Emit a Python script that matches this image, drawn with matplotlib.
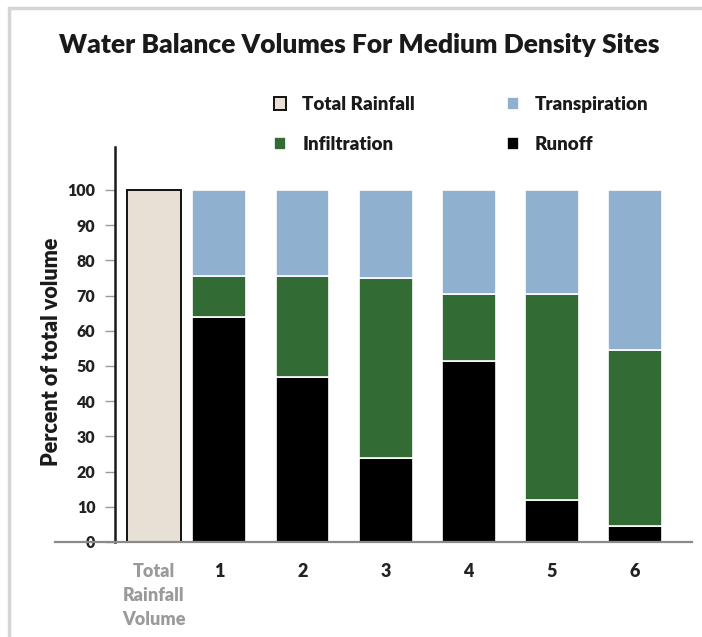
import numpy as np
import matplotlib
matplotlib.use("Agg")
import matplotlib.pyplot as plt
from matplotlib.patches import Rectangle

plt.rcParams['font.family'] = ['Lato', 'DejaVu Sans']
plt.rcParams['font.weight'] = 'heavy'
plt.rcParams['axes.labelweight'] = 'heavy'

# Water balance split (percent of total rainfall) for each medium density site
sites = ['1', '2', '3', '4', '5', '6']
runoff = [64, 47, 24, 51.5, 12, 4.5]
infiltration = [11.5, 28.5, 51, 19, 58.5, 50]
transpiration = [24.5, 24.5, 25, 29.5, 29.5, 45.5]
total_rainfall = 100
rainfall_label = 'Total\nRainfall\nVolume'
y_ticks = [0, 10, 20, 30, 40, 50, 60, 70, 80, 90, 100]

W, H = 702, 637
fig = plt.figure(figsize=(W / 100, H / 100), dpi=100)
ax = fig.add_axes([55 / W, 1 - 542 / H, (692 - 55) / W, (542 - 147) / H])

x = np.arange(1, len(sites) + 1)
rain_x = 0.21
width = 0.65

rain = ax.bar(rain_x, total_rainfall, width, color='#e7e0d5', edgecolor='#111111',
              linewidth=1.4, label='Total Rainfall')
run = ax.bar(x, runoff, width, color='black', edgecolor='white', linewidth=1.2,
             label='Runoff')
inf = ax.bar(x, infiltration, width, bottom=runoff, color='#336b34', edgecolor='white',
             linewidth=1.2, label='Infiltration')
tra = ax.bar(x, transpiration, width, bottom=np.add(runoff, infiltration), color='#8fb1cf',
             edgecolor='white', linewidth=1.2, label='Transpiration')

ax.set_xlim(-0.98, 6.69)
ax.set_ylim(0, 112.2)

for side in ['top', 'right']:
    ax.spines[side].set_visible(False)
ax.spines['left'].set_position(('data', -0.26))
ax.spines['left'].set_color('#1a1a1a')
ax.spines['left'].set_linewidth(1.8)
ax.spines['bottom'].set_color('#8a8a8a')
ax.spines['bottom'].set_linewidth(1.6)

ax.set_yticks(y_ticks)
ax.tick_params(axis='y', length=7, width=1, color='#9a9a9a', labelsize=11.5, pad=7,
               labelcolor='#222222')
ax.set_xticks([rain_x, *x])
ax.set_xticklabels([rainfall_label, *sites])
ax.tick_params(axis='x', length=0, pad=15, labelsize=13, labelcolor='#222222')
first = ax.get_xticklabels()[0]
first.set_color('#9a9a9c')
first.set_multialignment('center')
first.set_linespacing(1.5)

ax.set_ylabel('Percent of total volume', fontsize=15.5, color='#1a1a1a', va='center')
ax.yaxis.set_label_coords((51.5 - 55) / 637, (542 - 352) / 395)

fig.text(359 / W, 1 - 45 / H, 'Water Balance Volumes For Medium Density Sites',
         ha='center', va='center', fontsize=19, color='#1a1a1a')

fig.legend([rain, inf, tra, run], ['Total Rainfall', 'Infiltration', 'Transpiration', 'Runoff'],
           ncol=2, loc='upper left', bbox_to_anchor=(274 / W, 1 - 96 / H), frameon=False,
           prop={'size': 13.5, 'weight': 'heavy'}, handlelength=0.65, handleheight=0.65,
           handletextpad=0.85, columnspacing=4.9, labelspacing=1.22, borderpad=0,
           borderaxespad=0, labelcolor='#1a1a1a')

# light gray panel border
fig.patches.append(Rectangle((9 / W, -0.1), 1.2, 1.1 - 8 / H, transform=fig.transFigure,
                             fill=False, edgecolor='#d5d5d5', linewidth=2.5))

fig.savefig('out.png', dpi=100)
